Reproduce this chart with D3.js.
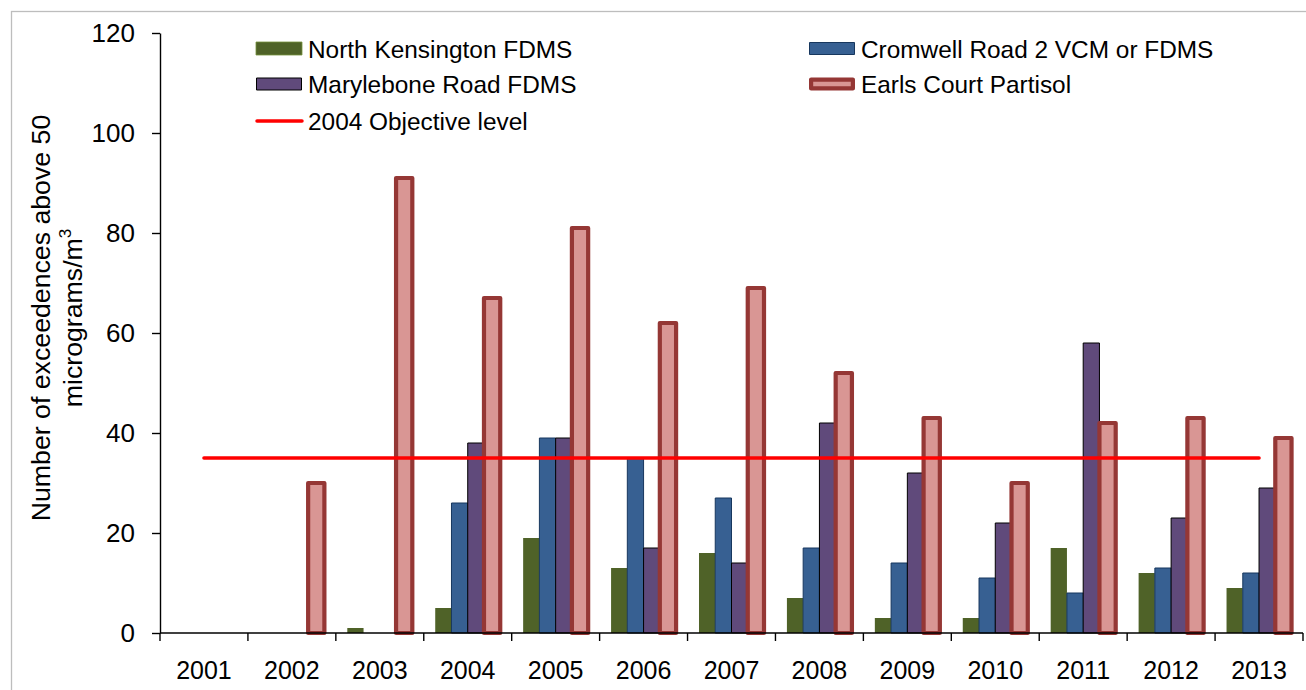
<!DOCTYPE html>
<html>
<head>
<meta charset="utf-8">
<script src="https://cdn.jsdelivr.net/npm/d3@7/dist/d3.min.js"></script>
<style>
  html, body { margin: 0; padding: 0; background: #fff; }
  svg { display: block; }
  text { font-family: "Liberation Sans", Arial, sans-serif; fill: #000; }
</style>
</head>
<body>
<svg id="chart" width="1306" height="690"></svg>
<script>
// PM10 daily-mean exceedences per year at four monitoring sites
const years = ['2001', '2002', '2003', '2004', '2005', '2006', '2007',
               '2008', '2009', '2010', '2011', '2012', '2013'];
const northKensington = [null, null, 1, 5, 19, 13, 16, 7, 3, 3, 17, 12, 9];
const cromwellRoad    = [null, null, null, 26, 39, 35, 27, 17, 14, 11, 8, 13, 12];
const marylebone      = [null, null, null, 38, 39, 17, 14, 42, 32, 22, 58, 23, 29];
const earlsCourt      = [null, 30, 91, 67, 81, 62, 69, 52, 43, 30, 42, 43, 39];
const objectiveLevel  = [35, 35, 35, 35, 35, 35, 35, 35, 35, 35, 35, 35, 35];
const yTicks = [0, 20, 40, 60, 80, 100, 120];

const seriesNames = ['North Kensington FDMS', 'Cromwell Road 2 VCM or FDMS',
                     'Marylebone Road FDMS', 'Earls Court Partisol'];
const lineName = '2004 Objective level';

const seriesValues = [northKensington, cromwellRoad, marylebone, earlsCourt];
const seriesStyle = [
  { fill: '#4F6228', stroke: 'none',    width: 0 },
  { fill: '#376092', stroke: '#17375E', width: 1 },
  { fill: '#604A7B', stroke: '#000000', width: 1 },
  { fill: '#D99694', stroke: '#953735', width: 4.2 }
];

const svg = d3.select('#chart');
const margin = { left: 160, right: 3, top: 33, bottom: 57 };
const W = 1306, H = 690;

// outer chart frame
svg.append('rect')
  .attr('x', 11.5).attr('y', 11.5)
  .attr('width', W + 10).attr('height', H + 10)
  .attr('fill', 'none').attr('stroke', '#bdbdbd').attr('stroke-width', 1.3);

const x0 = d3.scaleBand().domain(years)
  .range([margin.left, W - margin.right]).paddingInner(0).paddingOuter(0);
const x1 = d3.scaleBand().domain(d3.range(seriesNames.length))
  .range([0, x0.bandwidth()]).paddingInner(0).paddingOuter(0.705);
const y = d3.scaleLinear().domain([0, 120]).range([H - margin.bottom, margin.top]);

// bars
const plot = svg.append('g');
seriesValues.forEach((vals, si) => {
  const st = seriesStyle[si];
  plot.append('g').selectAll('rect')
    .data(years.map((yr, i) => ({ yr, v: vals[i] })).filter(d => d.v != null))
    .join('rect')
    .attr('x', d => x0(d.yr) + x1(si))
    .attr('y', d => y(d.v))
    .attr('width', x1.bandwidth())
    .attr('height', d => y(0) - y(d.v))
    .attr('fill', st.fill)
    .attr('stroke', st.stroke)
    .attr('stroke-width', st.width)
    .attr('stroke-linejoin', 'round');
});

// objective line through category centres
const line = d3.line()
  .x((d, i) => x0(years[i]) + x0.bandwidth() / 2)
  .y(d => y(d));
svg.append('path')
  .datum(objectiveLevel)
  .attr('d', line)
  .attr('fill', 'none')
  .attr('stroke', '#FF0000')
  .attr('stroke-width', 3.5)
  .attr('stroke-linecap', 'round');

// y axis
const yAxis = svg.append('g')
  .attr('transform', `translate(${margin.left},0)`)
  .call(d3.axisLeft(y).tickValues(yTicks).tickSize(8).tickPadding(17).tickSizeOuter(0));
yAxis.select('.domain').attr('stroke', '#000').attr('stroke-width', 1.4);
yAxis.selectAll('.tick line').attr('stroke', '#000').attr('stroke-width', 1.4);
yAxis.selectAll('.tick text')
  .style('font-family', '"Liberation Sans", Arial, sans-serif')
  .style('font-size', '26px').attr('fill', '#000');

// x axis: boundary ticks between categories
const xAxis = svg.append('g')
  .attr('transform', `translate(0,${y(0)})`);
xAxis.append('line')
  .attr('x1', margin.left).attr('x2', W - margin.right)
  .attr('stroke', '#000').attr('stroke-width', 1.4);
const bounds = years.map(yr => x0(yr)).concat([x0(years[years.length - 1]) + x0.bandwidth()]);
xAxis.selectAll('line.bt').data(bounds).join('line')
  .attr('class', 'bt')
  .attr('x1', d => d).attr('x2', d => d)
  .attr('y1', 0).attr('y2', 8)
  .attr('stroke', '#000').attr('stroke-width', 1.4);
xAxis.selectAll('text').data(years).join('text')
  .attr('x', d => x0(d) + x0.bandwidth() / 2)
  .attr('y', 46)
  .attr('text-anchor', 'middle')
  .style('font-size', '25px')
  .text(d => d);

// y axis title
const yTitle = svg.append('g')
  .attr('transform', 'translate(0,318)');
yTitle.append('text')
  .attr('transform', 'translate(50,0) rotate(-90)')
  .attr('text-anchor', 'middle')
  .style('font-size', '26.7px')
  .text('Number of exceedences above 50');
const t2 = yTitle.append('text')
  .attr('transform', 'translate(82,0) rotate(-90)')
  .attr('text-anchor', 'middle')
  .style('font-size', '26.7px');
t2.append('tspan').text('micrograms/m');
t2.append('tspan').attr('dy', -11).style('font-size', '17px').text('3');

// legend
const legendItems = [
  { name: seriesNames[0], kind: 'bar', s: 0, col: 0, row: 0 },
  { name: seriesNames[1], kind: 'bar', s: 1, col: 1, row: 0 },
  { name: seriesNames[2], kind: 'bar', s: 2, col: 0, row: 1 },
  { name: seriesNames[3], kind: 'bar', s: 3, col: 1, row: 1 },
  { name: lineName,       kind: 'line',      col: 0, row: 2 }
];
const colX = [256, 809];
const rowY = [48.5, 84, 121];
const leg = svg.append('g');
legendItems.forEach(it => {
  const gx = colX[it.col], gy = rowY[it.row];
  const g = leg.append('g').attr('transform', `translate(${gx},${gy})`);
  if (it.kind === 'bar') {
    const st = seriesStyle[it.s];
    const inset = st.width / 2;
    g.append('rect')
      .attr('x', inset).attr('y', -6.5 + inset)
      .attr('width', 46 - 2 * inset).attr('height', 13 - 2 * inset)
      .attr('fill', st.fill)
      .attr('stroke', st.stroke === 'none' ? '#77933C' : st.stroke)
      .attr('stroke-width', st.width === 0 ? 0.8 : st.width)
      .attr('stroke-linejoin', 'round');
  } else {
    g.append('line')
      .attr('x1', 1).attr('x2', 46)
      .attr('stroke', '#FF0000').attr('stroke-width', 3.5)
      .attr('stroke-linecap', 'round');
  }
  g.append('text')
    .attr('x', 52).attr('y', 9)
    .style('font-size', '24.4px')
    .text(it.name);
});
</script>
</body>
</html>
